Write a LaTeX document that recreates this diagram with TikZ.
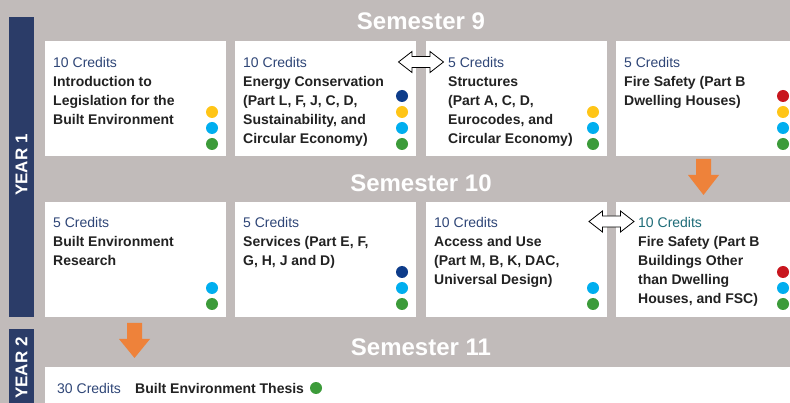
\documentclass[tikz,border=0pt]{standalone}
\usepackage{fontspec}
\setmainfont{Liberation Sans}
\usetikzlibrary{calc}
\definecolor{bg}{HTML}{C1BBBA}
\definecolor{navybar}{HTML}{2B3C68}
\definecolor{credblue}{HTML}{2F4677}
\definecolor{credteal}{HTML}{1E6C78}
\definecolor{ink}{HTML}{222222}
\definecolor{orng}{HTML}{EE823A}
\definecolor{dy}{HTML}{FFC517}
\definecolor{db}{HTML}{00AEEF}
\definecolor{dg}{HTML}{3C9B3A}
\definecolor{dn}{HTML}{0D3C8A}
\definecolor{dr}{HTML}{C8161E}
\newcommand{\mylines}[1]{\vtop{\halign{##\hfil\cr#1\crcr}}}
\begin{document}
\begin{tikzpicture}[x=1pt,y=-1pt,
 card/.style={fill=white, draw=none, minimum width=181pt, minimum height=115pt, anchor=north west, inner sep=0pt, outer sep=0pt},
 cred/.style={anchor=base west, inner sep=0pt, text=credblue, font=\fontsize{14}{19}\selectfont},
 ttl/.style={anchor=base west, inner sep=0pt, text=ink, font=\bfseries\fontsize{14}{19}\selectfont},
 dot/.style={circle, inner sep=0pt, minimum size=12pt},
 sem/.style={text=white, font=\bfseries\fontsize{24}{28}\selectfont, inner sep=0pt},
 yearbar/.style={fill=navybar, anchor=north west, inner sep=0pt, outer sep=0pt, minimum width=25pt},
 yeartxt/.style={text=white, rotate=90, font=\bfseries\fontsize{17}{20}\selectfont, inner sep=0pt},
 orangearrow/.style={fill=orng},
 dblarrow/.style={fill=white, draw=black, line width=0.8pt, line join=miter}
]
\useasboundingbox (0,0) rectangle (790,403);
\fill[bg] (0,0) rectangle (790,403);
% year bars
\node[yearbar, minimum height=300pt] (y1) at (9,17) {};
\node[yearbar, minimum height=80pt] (y2) at (9,329) {};
\node[yeartxt] (y1t) at (21.5,165) {YEAR 1};
\node[yeartxt] (y2t) at (21.5,368) {YEAR 2};
% semester titles
\node[sem] (s9) at (421,21) {Semester 9};
\node[sem] (s10) at (421,183) {Semester 10};
\node[sem] (s11) at (421,347) {Semester 11};
% row 1 cards
\node[card] (b1) at (45,41) {};
\node[card] (b2) at (235,41) {};
\node[card] (b3) at (426,41) {};
\node[card] (b4) at (616,41) {};
% row 2 cards
\node[card] (c1) at (45,202) {};
\node[card] (c2) at (235,202) {};
\node[card] (c3) at (426,202) {};
\node[card] (c4) at (616,202) {};
% thesis strip
\node[fill=white, anchor=north west, inner sep=0pt, outer sep=0pt, minimum width=760pt, minimum height=40pt] (th) at (45,367) {};
% row 1 texts
\node[cred] (b1c) at (53,68) {10 Credits};
\node[ttl] (b1t) at (53,87) {\mylines{Introduction to\cr Legislation for the\cr Built Environment}};
\node[cred] (b2c) at (243,68) {10 Credits};
\node[ttl] (b2t) at (243,87) {\mylines{Energy Conservation\cr (Part L, F, J, C, D,\cr Sustainability, and\cr Circular Economy)}};
\node[cred] (b3c) at (448,68) {5 Credits};
\node[ttl] (b3t) at (448,87) {\mylines{Structures\cr (Part A, C, D,\cr Eurocodes, and\cr Circular Economy)}};
\node[cred] (b4c) at (624,68) {5 Credits};
\node[ttl] (b4t) at (624,87) {\mylines{Fire Safety (Part B\cr Dwelling Houses)}};
% row 2 texts
\node[cred] (c1c) at (53,228) {5 Credits};
\node[ttl] (c1t) at (53,247) {\mylines{Built Environment\cr Research}};
\node[cred] (c2c) at (243,228) {5 Credits};
\node[ttl] (c2t) at (243,247) {\mylines{Services (Part E, F,\cr G, H, J and D)}};
\node[cred] (c3c) at (434,228) {10 Credits};
\node[ttl] (c3t) at (434,247) {\mylines{Access and Use\cr (Part M, B, K, DAC,\cr Universal Design)}};
\node[cred, text=credteal] (c4c) at (638,228) {10 Credits};
\node[ttl] (c4t) at (638,247) {\mylines{Fire Safety (Part B\cr Buildings Other\cr than Dwelling\cr Houses, and FSC)}};
% thesis text
\node[cred] (thc) at (57,393) {30 Credits};
\node[ttl] (tht) at (135,393) {Built Environment Thesis};
\node[dot, fill=dg] (thd) at (316,388) {};
% dots row 1
\node[dot, fill=dy] (b1d1) at (212,112) {};
\node[dot, fill=db] (b1d2) at (212,128) {};
\node[dot, fill=dg] (b1d3) at (212,144) {};
\node[dot, fill=dn] (b2d1) at (402,96) {};
\node[dot, fill=dy] (b2d2) at (402,112) {};
\node[dot, fill=db] (b2d3) at (402,128) {};
\node[dot, fill=dg] (b2d4) at (402,144) {};
\node[dot, fill=dy] (b3d1) at (593,112) {};
\node[dot, fill=db] (b3d2) at (593,128) {};
\node[dot, fill=dg] (b3d3) at (593,144) {};
\node[dot, fill=dr] (b4d1) at (783,96) {};
\node[dot, fill=dy] (b4d2) at (783,112) {};
\node[dot, fill=db] (b4d3) at (783,128) {};
\node[dot, fill=dg] (b4d4) at (783,144) {};
% dots row 2
\node[dot, fill=db] (c1d1) at (212,288) {};
\node[dot, fill=dg] (c1d2) at (212,304) {};
\node[dot, fill=dn] (c2d1) at (402,272) {};
\node[dot, fill=db] (c2d2) at (402,288) {};
\node[dot, fill=dg] (c2d3) at (402,304) {};
\node[dot, fill=db] (c3d1) at (593,288) {};
\node[dot, fill=dg] (c3d2) at (593,304) {};
\node[dot, fill=dr] (c4d1) at (783,272) {};
\node[dot, fill=db] (c4d2) at (783,288) {};
\node[dot, fill=dg] (c4d3) at (783,304) {};
% double arrows
\coordinate (d1) at ($($(b2.north east)!0.5!(b3.north west)$)+(0,21)$);
\coordinate (d2) at ($($(c3.north east)!0.5!(c4.north west)$)+(0,19.5)$);
\foreach \c in {d1,d2}{
  \draw[dblarrow] (\c) ++(-22.5,0) -- ++(13.5,-10.5) -- ++(0,5) -- ++(18,0) -- ++(0,-5)
    -- ++(13.5,10.5) -- ++(-13.5,10.5) -- ++(0,-5) -- ++(-18,0) -- ++(0,5) -- cycle;
}
% orange arrows
\coordinate (o1) at ($(b4.south)+(-3,3)$);
\coordinate (o2) at ($(c1.south)+(-1,6)$);
\fill[orangearrow] (o1) ++(-7.5,0) -- ++(0,16) -- ++(-8,0) -- ++(15.5,20) -- ++(15.5,-20) -- ++(-8,0) -- ++(0,-16) -- cycle;
\fill[orangearrow] (o2) ++(-7.5,0) -- ++(0,16) -- ++(-8,0) -- ++(15.5,19) -- ++(15.5,-19) -- ++(-8,0) -- ++(0,-16) -- cycle;
\end{tikzpicture}
\end{document}
